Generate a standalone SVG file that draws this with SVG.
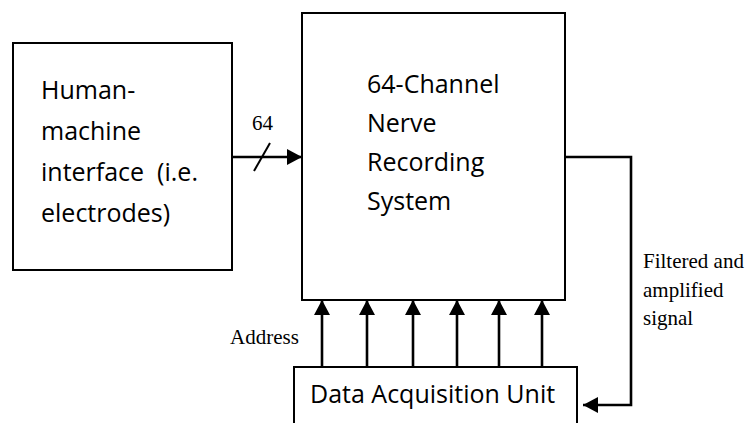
<svg xmlns="http://www.w3.org/2000/svg" width="750" height="423" viewBox="0 0 750 423">
<style>
.box{fill:#fff;stroke:#000;stroke-width:2}
.wire{fill:none;stroke:#000;stroke-width:2.6}
.t{font-family:"Open Sans","Liberation Sans",sans-serif;font-size:25px;fill:#000}
.s{font-family:"Liberation Serif","Times New Roman",serif;font-size:21px;fill:#000}
</style>
<defs>
<marker id="ah" markerUnits="userSpaceOnUse" markerWidth="16" markerHeight="16" viewBox="0 0 16 16" refX="15" refY="8" orient="auto">
<path d="M0,0 L15,8 L0,16 Z" fill="#000"/>
</marker>
</defs>
<rect width="750" height="423" fill="#fff"/>
<g id="hmi">
<rect class="box" x="13" y="43" width="219" height="227"/>
<text class="t" x="41" y="99">Human-</text>
<text class="t" x="41" y="140">machine</text>
<text class="t" x="41" y="181" xml:space="preserve">interface  (i.e.</text>
<text class="t" x="41" y="222">electrodes)</text>
</g>
<g id="nrs">
<rect class="box" x="302" y="13" width="263" height="287"/>
<text class="t" x="367" y="93">64-Channel</text>
<text class="t" x="367" y="132">Nerve</text>
<text class="t" x="367" y="171">Recording</text>
<text class="t" x="367" y="210">System</text>
</g>
<g id="dau">
<rect class="box" x="294" y="367" width="283" height="70"/>
<text class="t" x="310" y="403">Data Acquisition Unit</text>
</g>
<g id="connectors">
<line class="wire" x1="232" y1="157" x2="302" y2="157" marker-end="url(#ah)"/>
<line x1="254" y1="171" x2="270" y2="143" stroke="#000" stroke-width="2"/>
<text class="s" x="252" y="130">64</text>
<line class="wire" x1="322" y1="367" x2="322" y2="300" marker-end="url(#ah)"/>
<line class="wire" x1="367" y1="367" x2="367" y2="300" marker-end="url(#ah)"/>
<line class="wire" x1="413" y1="367" x2="413" y2="300" marker-end="url(#ah)"/>
<line class="wire" x1="457" y1="367" x2="457" y2="300" marker-end="url(#ah)"/>
<line class="wire" x1="499" y1="367" x2="499" y2="300" marker-end="url(#ah)"/>
<line class="wire" x1="542" y1="367" x2="542" y2="300" marker-end="url(#ah)"/>
<text class="s" x="230" y="344">Address</text>
<polyline class="wire" points="565,157 631,157 631,405 583,405" marker-end="url(#ah)"/>
<text class="s" x="643" y="268">Filtered and</text>
<text class="s" x="643" y="297">amplified</text>
<text class="s" x="643" y="325">signal</text>
</g>
</svg>
